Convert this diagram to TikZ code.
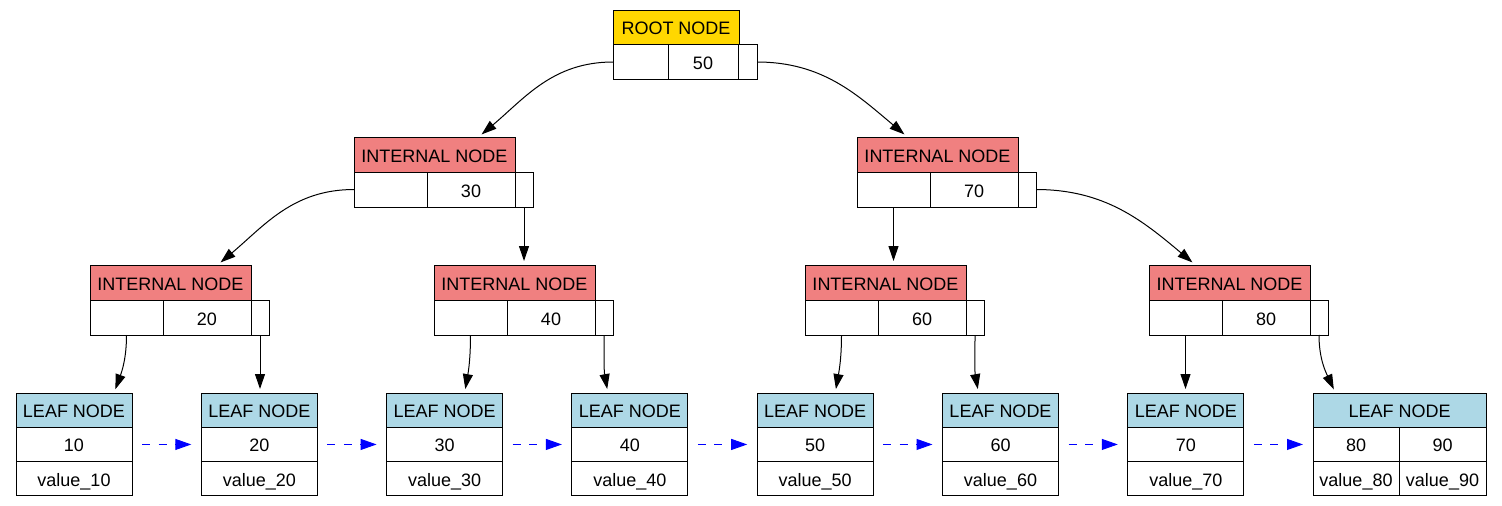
\documentclass[tikz,border=0pt]{standalone}
\usepackage{fontspec}
\setmainfont{Liberation Sans}
\usetikzlibrary{arrows.meta}
\definecolor{rootgold}{HTML}{FFD700}
\definecolor{innerred}{HTML}{F08080}
\definecolor{leafblue}{HTML}{ADD8E6}
\tikzset{
  cell/.style={draw, fill=white, line width=1pt, inner sep=0pt, outer sep=0pt,
    anchor=north west, minimum height=35pt, text height=17pt, text depth=2pt,
    font=\fontsize{18}{20}\selectfont},
  treearrow/.style={line width=1pt, shorten >=4pt, -{Triangle[length=15pt,width=10pt]}},
  leaflink/.style={blue, line width=1pt, dash pattern=on 8pt off 8.5pt,
    shorten <=10pt, shorten >=10pt, -{Triangle[length=16pt,width=11pt]}}
}
\begin{document}
\begin{tikzpicture}[x=1pt,y=1pt]
    \useasboundingbox (0,0) rectangle (1502,-506);
    % root
    \node[cell, fill=rootgold, minimum width=126pt, minimum height=34.5pt] (r-h) at (613,-10) {ROOT NODE};
    \node[cell, minimum width=55pt] (r-a) at (613,-44.5) {};
    \node[cell, minimum width=70pt] (r-b) at (668,-44.5) {50};
    \node[cell, minimum width=19pt] (r-c) at (738,-44.5) {};
    % internal nodes
    \foreach \n/\x/\y/\k in {n30/354/137/30, n70/857/137/70, n20/90/265/20,
                             n40/434/265/40, n60/805/265/60, n80/1149/265/80} {
        \node[cell, fill=innerred, minimum width=161pt] (\n-h) at (\x,-\y) {INTERNAL NODE};
        \node[cell, minimum width=73pt] (\n-a) at ({\x},{-\y-35}) {};
        \node[cell, minimum width=88pt] (\n-b) at ({\x+73},{-\y-35}) {\k};
        \node[cell, minimum width=18pt] (\n-c) at ({\x+161},{-\y-35}) {};
    }
    % leaves
    \foreach \i/\k in {1/10,2/20,3/30,4/40,5/50,6/60,7/70} {
        \node[cell, fill=leafblue, minimum width=116pt, minimum height=34.3pt] (l\i-h) at ({16+185.3*(\i-1)},-393) {LEAF NODE};
        \node[cell, minimum width=116pt, minimum height=34.3pt] (l\i-k) at ({16+185.3*(\i-1)},-427.3) {\k};
        \node[cell, minimum width=116pt, minimum height=34.3pt] (l\i-v) at ({16+185.3*(\i-1)},-461.6) {value\_\k};
    }
    \node[cell, fill=leafblue, minimum width=173pt, minimum height=34.3pt] (l8-h) at (1313,-393) {LEAF NODE};
    \node[cell, minimum width=86pt, minimum height=34.3pt] (l8-k) at (1313,-427.3) {80};
    \node[cell, minimum width=87pt, minimum height=34.3pt] (l8-k2) at (1399,-427.3) {90};
    \node[cell, minimum width=86pt, minimum height=34.3pt] (l8-v) at (1313,-461.6) {value\_80};
    \node[cell, minimum width=87pt, minimum height=34.3pt] (l8-v2) at (1399,-461.6) {value\_90};
    % tree edges
    \draw[treearrow] (r-a.west) to[out=180,in=40] ([xshift=44pt]n30-h.north);
    \draw[treearrow] (r-c.east) to[out=0,in=140] ([xshift=-30pt]n70-h.north);
    \draw[treearrow] (n30-a.west) to[out=180,in=40] ([xshift=47pt]n20-h.north);
    \draw[treearrow] (n30-c.south) -- (n30-c.south |- n40-h.north);
    \draw[treearrow] (n70-a.south) -- (n70-a.south |- n60-h.north);
    \draw[treearrow] (n70-c.east) to[out=0,in=140] ([xshift=-34pt]n80-h.north);
    \draw[treearrow] (n20-a.south) to[out=-90,in=70] ([xshift=40pt]l1-h.north);
    \draw[treearrow] (n20-c.south) -- (n20-c.south |- l2-h.north);
    \draw[treearrow] (n40-a.south) to[out=-90,in=80] ([xshift=20pt]l3-h.north);
    \draw[treearrow] (n40-c.south) to[out=-90,in=100] ([xshift=-22pt]l4-h.north);
    \draw[treearrow] (n60-a.south) to[out=-90,in=80] ([xshift=20pt]l5-h.north);
    \draw[treearrow] (n60-c.south) to[out=-90,in=100] ([xshift=-22pt]l6-h.north);
    \draw[treearrow] (n80-a.south) -- (n80-a.south |- l7-h.north);
    \draw[treearrow] (n80-c.south) to[out=-90,in=115] ([xshift=-64pt]l8-h.north);
    % leaf links
    \foreach \i/\j in {1/2,2/3,3/4,4/5,5/6,6/7}
        \draw[leaflink] (l\i-k.east) -- (l\j-k.west);
    \draw[leaflink] (l7-k.east) -- (l8-k.west);
\end{tikzpicture}
\end{document}
